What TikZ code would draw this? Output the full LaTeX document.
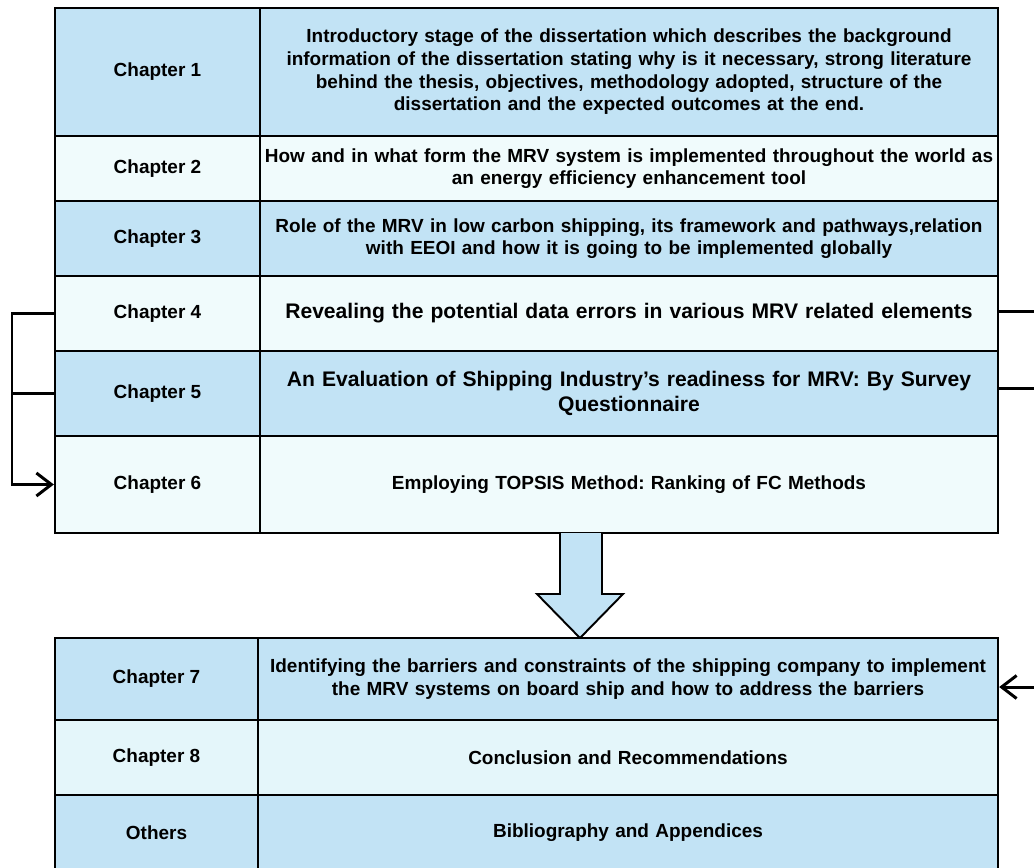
\documentclass[tikz,border=0pt]{standalone}
\usepackage{fontspec}
\setmainfont{Liberation Sans}
\usetikzlibrary{arrows.meta}
\definecolor{rowblue}{RGB}{194,227,245}
\definecolor{rowpale}{RGB}{240,251,252}
\definecolor{rowpaleb}{RGB}{228,246,250}
\def\px{0.02cm}
\frenchspacing

\begin{document}
\begin{tikzpicture}[x=0.02cm, y=-0.02cm,
  cell/.style={draw, line width=1.3pt, inner sep=0pt, align=center,
    font=\bfseries\fontsize{10.8}{12.9}\selectfont},
  chapcell/.style={cell, minimum width=205*\px},
  textcell/.style={cell, minimum width=738*\px, text width=737*\px},
  bigtext/.style={font=\bfseries\fontsize{12}{14.4}\selectfont},
  link/.style={line width=1.7pt},
  linkhead/.style={link, -{Straight Barb[length=0.3cm, width=0.46cm]}}]
\useasboundingbox (0,0) rectangle (1034,867);

% upper table
\node (c1) [chapcell, fill=rowblue, minimum height=128*\px] at (157.5,72) {Chapter 1};
\node (t1) [textcell, fill=rowblue, minimum height=128*\px] at (629,72)
  {Introductory stage of the dissertation which describes the background\\
   information of the dissertation stating why is it necessary, strong literature\\
   behind the thesis, objectives, methodology adopted, structure of the\\
   dissertation and the expected outcomes at the end.};
\node (c2) [chapcell, fill=rowpale, minimum height=65*\px] at (157.5,168.5) {Chapter 2};
\node (t2) [textcell, fill=rowpale, minimum height=65*\px] at (629,168.5)
  {How and in what form the MRV system is implemented throughout the world as\\
   an energy efficiency enhancement tool};
\node (c3) [chapcell, fill=rowblue, minimum height=75*\px] at (157.5,238.5) {Chapter 3};
\node (t3) [textcell, fill=rowblue, minimum height=75*\px] at (629,238.5)
  {Role of the MRV in low carbon shipping, its framework and pathways,relation\\
   with EEOI and how it is going to be implemented globally};
\node (c4) [chapcell, fill=rowpale, minimum height=75*\px] at (157.5,313.5) {Chapter 4};
\node (t4) [textcell, bigtext, fill=rowpale, minimum height=75*\px] at (629,313.5)
  {Revealing the potential data errors in various MRV related elements};
\node (c5) [chapcell, fill=rowblue, minimum height=85*\px] at (157.5,393.5) {Chapter 5};
\node (t5) [textcell, bigtext, fill=rowblue, minimum height=85*\px] at (629,393.5)
  {An Evaluation of Shipping Industry’s readiness for MRV: By Survey\\
   Questionnaire};
\node (c6) [chapcell, fill=rowpale, minimum height=97*\px] at (157.5,484.5) {Chapter 6};
\node (t6) [textcell, fill=rowpale, minimum height=97*\px] at (629,484.5)
  {Employing TOPSIS Method: Ranking of FC Methods};

% block arrow between the tables
\draw [fill=rowblue, line width=1.1pt] (560,533) -- (560,594) -- (537,594) -- (580,638)
  -- (623,594) -- (602,594) -- (602,533);

% lower table
\node (c7) [chapcell, fill=rowblue, minimum height=82*\px, minimum width=203*\px] at (156.5,679) {Chapter 7};
\node (t7) [textcell, fill=rowblue, minimum height=82*\px, minimum width=740*\px] at (628,679)
  {Identifying the barriers and constraints of the shipping company to implement\\
   the MRV systems on board ship and how to address the barriers};
\node (c8) [chapcell, fill=rowpaleb, minimum height=75*\px, minimum width=203*\px] at (156.5,757.5) {Chapter 8};
\node (t8) [textcell, fill=rowpaleb, minimum height=75*\px, minimum width=740*\px] at (628,757.5)
  {Conclusion and Recommendations};
\node (c9) [chapcell, fill=rowblue, minimum height=75*\px, minimum width=203*\px] at (156.5,832.5) {Others};
\node (t9) [textcell, fill=rowblue, minimum height=75*\px, minimum width=740*\px] at (628,832.5)
  {Bibliography and Appendices};

% connectors on the left
\coordinate (turn) at (12,0);
\draw [linkhead] (c4.west) -- (c4.west -| turn) -- (c6.west -| turn) -- (c6.west);
\draw [link] (c5.west) -- (c5.west -| turn);

% connectors on the right, running off the page
\coordinate (out4) at (1040,311);
\coordinate (out5) at (1040,388);
\coordinate (in7) at (1040,687);
\draw [link] (out4 -| t4.east) -- (out4);
\draw [link] (out5 -| t5.east) -- (out5);
\draw [linkhead] (in7) -- (in7 -| t7.east);
\end{tikzpicture}
\end{document}
